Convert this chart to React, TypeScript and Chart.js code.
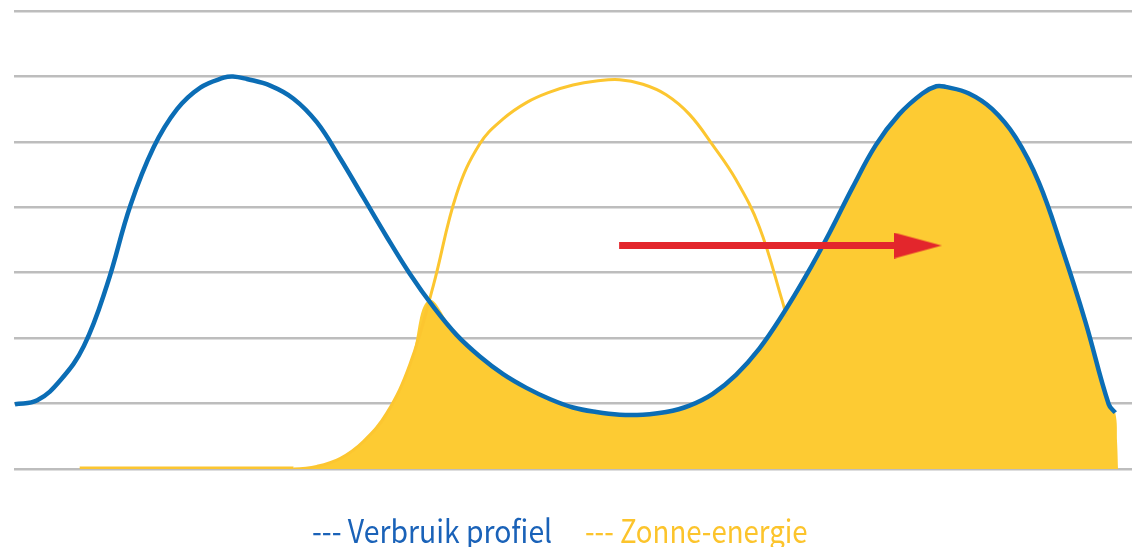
import React, { useEffect, useRef } from 'react';
import { Chart, registerables } from 'chart.js';

Chart.register(...registerables);

// Hours of the day (x) and relative level (y)
const useHours = [0.02, 0.5, 1.0, 1.5, 2.0, 2.5, 3.0, 3.5, 4.0, 4.5, 4.7, 5.0, 5.5, 6.0, 6.5, 7.0, 7.5, 8.0, 8.5, 9.0, 9.5, 10.0, 10.5, 11.0, 11.5, 12.0, 12.5, 13.0, 13.5, 14.0, 14.5, 15.0, 15.5, 16.0, 16.5, 17.0, 17.5, 18.0, 18.5, 19.0, 19.5, 19.8, 20.0, 20.5, 21.0, 21.5, 22.0, 22.5, 23.0, 23.5, 23.64];
const useValues = [0.99, 1.05, 1.36, 1.88, 2.82, 4.03, 4.92, 5.5, 5.83, 5.98, 6.0, 5.96, 5.86, 5.66, 5.3, 4.75, 4.15, 3.55, 2.98, 2.48, 2.05, 1.72, 1.45, 1.24, 1.07, 0.94, 0.87, 0.83, 0.83, 0.87, 0.97, 1.15, 1.44, 1.84, 2.36, 2.95, 3.6, 4.3, 4.95, 5.42, 5.74, 5.85, 5.84, 5.74, 5.5, 5.07, 4.38, 3.37, 2.25, 0.99, 0.86];

const sunHours = [1.41, 3.0, 4.5, 6.0, 6.5, 7.0, 7.5, 8.0, 8.5, 9.0, 9.5, 10.0, 10.5, 11.0, 11.5, 12.0, 12.5, 13.0, 13.5, 14.0, 14.5, 15.0, 15.5, 16.0, 16.5, 16.58];
const sunValues = [0, 0, 0, 0, 0.04, 0.16, 0.42, 0.85, 1.6, 2.8, 4.2, 4.97, 5.35, 5.6, 5.76, 5.87, 5.93, 5.95, 5.88, 5.72, 5.42, 4.95, 4.42, 3.7, 2.55, 2.33];

// Upper edge of the shaded (used solar) area
const fillHours = [6.0, 6.5, 7.0, 7.5, 8.0, 8.5, 8.9, 9.5, 10.0, 10.5, 11.0, 11.5, 12.0, 12.5, 13.0, 13.5, 14.0, 14.5, 15.0, 15.5, 16.0, 16.5, 17.0, 17.5, 18.0, 18.5, 19.0, 19.5, 19.8, 20.0, 20.5, 21.0, 21.5, 22.0, 22.5, 23.0, 23.5, 23.64, 23.68, 23.70];
const fillValues = [0, 0.04, 0.16, 0.42, 0.85, 1.6, 2.58, 2.05, 1.72, 1.45, 1.24, 1.07, 0.94, 0.87, 0.83, 0.83, 0.87, 0.97, 1.15, 1.44, 1.84, 2.36, 2.95, 3.6, 4.3, 4.95, 5.42, 5.74, 5.85, 5.84, 5.74, 5.5, 5.07, 4.38, 3.37, 2.25, 0.99, 0.86, 0.4, 0];

const arrowHours = [12.99, 19.4];
const arrowValues = [3.415, 3.415];

const yMin = 0;
const yMax = 7;
const xMin = 0;
const xMax = 24;

const legendLabels = ['--- Verbruik profiel', '--- Zonne-energie'];

const BLUE = '#0b6db5';
const YELLOW_LINE = '#fcc630';
const YELLOW_FILL = '#fdcb33';
const RED = '#e3262c';

const toPoints = (xs: number[], ys: number[]) => xs.map((x, i) => ({ x, y: ys[i] }));

function makeArrowHead(): HTMLCanvasElement {
  const c = document.createElement('canvas');
  c.width = 48;
  c.height = 26;
  const g = c.getContext('2d')!;
  g.fillStyle = RED;
  g.beginPath();
  g.moveTo(0, 0);
  g.lineTo(48, 13);
  g.lineTo(0, 26);
  g.closePath();
  g.fill();
  return c;
}

export default function App() {
  const ref = useRef<HTMLCanvasElement | null>(null);

  useEffect(() => {
    if (!ref.current) return;
    const head = makeArrowHead();
    const chart = new Chart(ref.current, {
      type: 'line',
      data: {
        datasets: [
          {
            label: 'arrow',
            data: toPoints(arrowHours, arrowValues),
            borderColor: RED,
            borderWidth: 7,
            borderCapStyle: 'butt',
            tension: 0,
            pointRadius: [0, 5],
            pointStyle: ['circle', head] as any,
            pointBackgroundColor: RED,
            pointBorderWidth: 0,
            order: 0,
          } as any,
          {
            label: 'Verbruik profiel',
            data: toPoints(useHours, useValues),
            borderColor: BLUE,
            borderWidth: 4.5,
            tension: 0.4,
            pointRadius: 0,
            fill: false,
            order: 1,
          },
          {
            label: 'Zonne-energie',
            data: toPoints(sunHours, sunValues),
            borderColor: YELLOW_LINE,
            borderWidth: 3,
            tension: 0.4,
            pointRadius: 0,
            fill: false,
            segment: {
              borderWidth: (ctx: any) => (ctx.p0.parsed.y === 0 && ctx.p1.parsed.y === 0 ? 5 : 3),
            },
            order: 2,
          } as any,
          {
            label: 'fill',
            data: toPoints(fillHours, fillValues),
            borderWidth: 0,
            borderColor: 'rgba(0,0,0,0)',
            backgroundColor: YELLOW_FILL,
            tension: 0.4,
            pointRadius: 0,
            fill: 'origin',
            order: 3,
          },
        ],
      },
      options: {
        animation: false,
        responsive: false,
        maintainAspectRatio: false,
        layout: { padding: { left: 14, right: 0, top: 11, bottom: 78 } },
        plugins: { legend: { display: false }, tooltip: { enabled: false } },
        scales: {
          x: { type: 'linear', min: xMin, max: xMax, display: false },
          y: {
            min: yMin,
            max: yMax,
            ticks: { display: false, stepSize: 1 },
            grid: { color: '#bdbdbd', lineWidth: 2.5, drawTicks: false },
            border: { display: false },
            afterFit: (s: any) => {
              s.width = 0;
            },
          },
        },
      },
    });
    return () => chart.destroy();
  }, []);

  const font = '"Noto Sans CJK KR", "Noto Sans", sans-serif';
  const base: React.CSSProperties = {
    position: 'absolute',
    top: 513,
    fontFamily: font,
    fontSize: 32,
    lineHeight: '1',
    whiteSpace: 'nowrap',
    transformOrigin: 'left center',
  };
  return (
    <div style={{ position: 'fixed', left: 0, top: 0, width: 1137, height: 547, background: '#fff', overflow: 'hidden' }}>
      <canvas ref={ref} width={1137} height={547} style={{ display: 'block', position: 'absolute', left: 0, top: 0 }} />
      <span style={{ ...base, left: 312, color: '#1a62b8', transform: 'scaleX(0.886)' }}>{legendLabels[0]}</span>
      <span style={{ ...base, left: 585, color: '#fcc42c', transform: 'scaleX(0.862)' }}>{legendLabels[1]}</span>
    </div>
  );
}
